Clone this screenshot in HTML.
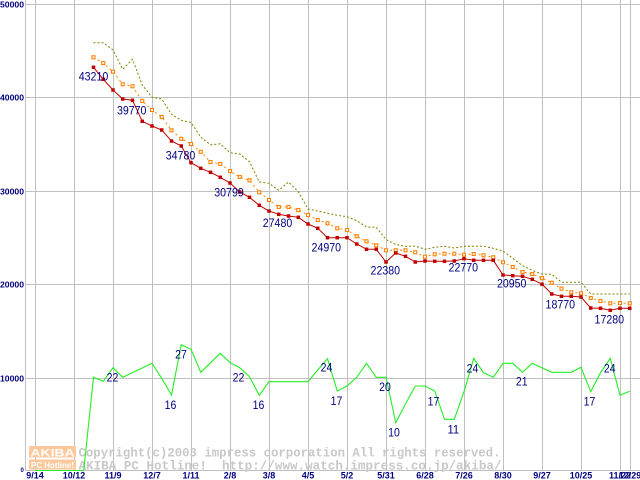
<!DOCTYPE html>
<html>
<head>
<meta charset="utf-8">
<style>
html,body{margin:0;padding:0;background:#fff;}
svg{display:block;}
.ax{font-family:"Liberation Sans",sans-serif;font-weight:bold;font-size:8.5px;fill:#000080;}
.xl{font-family:"Liberation Sans",sans-serif;font-weight:bold;font-size:9px;fill:#000080;}
.lb{font-family:"Liberation Sans",sans-serif;font-size:12px;fill:#000080;}
.wm{font-family:"Liberation Mono",monospace;font-weight:bold;font-size:13px;fill:#c8c8c8;}
</style>
</head>
<body>
<svg width="640" height="480" viewBox="0 0 640 480" xmlns="http://www.w3.org/2000/svg">
<defs>
<marker id="mr" markerWidth="4" markerHeight="4" refX="2" refY="2" markerUnits="userSpaceOnUse" overflow="visible">
<rect x="0.25" y="0.25" width="3.5" height="3.5" fill="#c00000"/>
</marker>
<marker id="mo" markerWidth="4" markerHeight="4" refX="2" refY="2" markerUnits="userSpaceOnUse" overflow="visible">
<rect x="0.5" y="0.5" width="3" height="3" fill="#ffffff" stroke="#ff8000" stroke-width="1.1"/>
</marker>
</defs>
<rect width="640" height="480" fill="#fff"/>
<!-- grid -->
<g stroke="#c0c0c0" stroke-width="1" fill="none">
<line x1="25" y1="4.5" x2="640" y2="4.5"/>
<line x1="25" y1="97.5" x2="640" y2="97.5"/>
<line x1="25" y1="191.5" x2="640" y2="191.5"/>
<line x1="25" y1="284.5" x2="640" y2="284.5"/>
<line x1="25" y1="378.5" x2="640" y2="378.5"/>
<line x1="25" y1="470.5" x2="640" y2="470.5"/>
<line x1="25.5" y1="0" x2="25.5" y2="471"/>
<line x1="35.5" y1="0" x2="35.5" y2="471"/>
<line x1="74.5" y1="0" x2="74.5" y2="471"/>
<line x1="113.5" y1="0" x2="113.5" y2="471"/>
<line x1="152.5" y1="0" x2="152.5" y2="471"/>
<line x1="191.5" y1="0" x2="191.5" y2="471"/>
<line x1="230.5" y1="0" x2="230.5" y2="471"/>
<line x1="269.5" y1="0" x2="269.5" y2="471"/>
<line x1="308.5" y1="0" x2="308.5" y2="471"/>
<line x1="347.5" y1="0" x2="347.5" y2="471"/>
<line x1="386.5" y1="0" x2="386.5" y2="471"/>
<line x1="425.5" y1="0" x2="425.5" y2="471"/>
<line x1="464.5" y1="0" x2="464.5" y2="471"/>
<line x1="503.5" y1="0" x2="503.5" y2="471"/>
<line x1="542.5" y1="0" x2="542.5" y2="471"/>
<line x1="581.5" y1="0" x2="581.5" y2="471"/>
<line x1="620.5" y1="0" x2="620.5" y2="471"/>
<line x1="630.5" y1="0" x2="630.5" y2="471"/>
</g>
<!-- y labels -->
<text class="ax" x="0" y="7.3" textLength="24" lengthAdjust="spacingAndGlyphs">50000</text>
<text class="ax" x="0" y="100.5" textLength="24" lengthAdjust="spacingAndGlyphs">40000</text>
<text class="ax" x="0" y="194.3" textLength="24" lengthAdjust="spacingAndGlyphs">30000</text>
<text class="ax" x="0" y="287.3" textLength="24" lengthAdjust="spacingAndGlyphs">20000</text>
<text class="ax" x="0" y="381.3" textLength="24" lengthAdjust="spacingAndGlyphs">10000</text>
<text class="ax" x="20.5" y="472" style="font-size:6px">0</text>
<!-- x labels -->
<g class="xl" text-anchor="middle">
<text x="35" y="478.5">9/14</text>
<text x="74" y="478.5">10/12</text>
<text x="113" y="478.5">11/9</text>
<text x="152" y="478.5">12/7</text>
<text x="191" y="478.5">1/11</text>
<text x="230" y="478.5">2/8</text>
<text x="269" y="478.5">3/8</text>
<text x="308" y="478.5">4/5</text>
<text x="347" y="478.5">5/2</text>
<text x="386" y="478.5">5/31</text>
<text x="425" y="478.5">6/28</text>
<text x="464" y="478.5">7/26</text>
<text x="503" y="478.5">8/30</text>
<text x="542" y="478.5">9/27</text>
<text x="581" y="478.5">10/25</text>
<text x="620" y="478.5">11/22</text>
<text x="630" y="478.5">12/29</text>
</g>
<!-- watermark -->
<rect x="29" y="446" width="47" height="11.5" fill="#fcc89c"/>
<rect x="29" y="459.5" width="47" height="10" fill="#fcc89c"/>
<text x="30.5" y="456.5" textLength="44" lengthAdjust="spacingAndGlyphs" style="font-family:'Liberation Sans',sans-serif;font-weight:bold;font-size:11px;fill:#fff">AKIBA</text>
<text x="31" y="467.8" textLength="43" lengthAdjust="spacingAndGlyphs" style="font-family:'Liberation Sans',sans-serif;font-weight:bold;font-size:8.5px;fill:#fff">PC Hotline!</text>
<text class="wm" x="78.5" y="456.7" textLength="422" lengthAdjust="spacingAndGlyphs">Copyright(c)2003 impress corporation All rights reserved.</text>
<text class="wm" x="78.5" y="469.3" textLength="423" lengthAdjust="spacingAndGlyphs" xml:space="preserve">AKIBA PC Hotline!&#160;&#160;http://www.watch.impress.co.jp/akiba/</text>
<!-- olive max -->
<polyline fill="none" stroke="#808000" stroke-width="1" stroke-dasharray="2 2" points="93.5,42.7 103.25,42.7 113,50 122.75,69.3 132.5,59.3 142.25,85 152,97.3 161.75,99 171.5,114.3 181.25,120.3 191,122.5 200.75,137.2 210.5,144.8 220.25,143.8 230,152.7 239.75,154 249.5,161.7 259.25,182 269,183.3 278.75,190.3 288.5,182 298.25,191.7 308,209 317.75,211 327.5,213.3 337.25,215.3 347,216.7 356.75,220.7 366.5,227 376.25,227.3 386,239.5 395.75,244.5 405.5,246.3 415.25,246 425,249.3 434.75,247.3 444.5,246.3 454.25,248 464,246.3 473.75,246.3 483.5,246.3 493.25,248.3 503,251 512.75,258.3 522.5,265.7 532.25,270.3 542,274 551.75,274.3 561.5,282.3 571.25,282.3 581,282.3 590.75,294 600.5,294 610.25,294 620,294 629.75,294"/>
<!-- orange avg -->
<polyline fill="none" stroke="#ff8000" stroke-width="1" stroke-dasharray="2 3" marker-start="url(#mo)" marker-mid="url(#mo)" marker-end="url(#mo)" points="93.5,57.3 103.25,63 113,71.7 122.75,84.3 132.5,86.3 142.25,101 152,110 161.75,117 171.5,130.3 181.25,138.8 191,144 200.75,151.8 210.5,162 220.25,164 230,171 239.75,177 249.5,180.3 259.25,192.3 269,200 278.75,207 288.5,207 298.25,210 308,215 317.75,220 327.5,223.3 337.25,228.3 347,230 356.75,236.3 366.5,241.3 376.25,245.3 386,250.3 395.75,250.3 405.5,250.3 415.25,252.3 425,256.7 434.75,254.3 444.5,253.7 454.25,253.7 464,254.7 473.75,254 483.5,255.3 493.25,257.3 503,262.3 512.75,267 522.5,272 532.25,274 542,278.2 551.75,282.7 561.5,288.7 571.25,292.3 581,293.3 590.75,298 600.5,301 610.25,303.3 620,303 629.75,303.3"/>
<!-- red min -->
<polyline fill="none" stroke="#c00000" stroke-width="1" marker-start="url(#mr)" marker-mid="url(#mr)" marker-end="url(#mr)" points="93.5,67.3 103.25,79.3 113,90 122.75,99 132.5,100.3 142.25,121.3 152,126 161.75,130 171.5,141 181.25,146 191,162.7 200.75,168.3 210.5,172.3 220.25,177.3 230,183 239.75,192 249.5,197.3 259.25,205.3 269,211 278.75,214.3 288.5,216 298.25,217.3 308,224 317.75,228.3 327.5,237.7 337.25,237.7 347,237.7 356.75,244 366.5,249.3 376.25,249.3 386,262 395.75,253 405.5,256.3 415.25,262 425,261 434.75,261.3 444.5,261.3 454.25,261 464,258.7 473.75,260.3 483.5,260.3 493.25,260.3 503,275 512.75,275.7 522.5,276.3 532.25,279.3 542,284.2 551.75,294 561.5,296.3 571.25,296.3 581,297 590.75,308 600.5,308.3 610.25,310.3 620,308.3 629.75,308.3"/>
<!-- green count -->
<polyline fill="none" stroke="#22ee22" stroke-width="1.1" points="35,470.5 44.75,470.5 54.5,470.5 64.25,470.5 74,470.5 83.75,470.5 93.5,377.3 103.25,381.3 113,367.7 122.75,377.3 132.5,372.6 142.25,368 152,363.3 161.75,378.3 171.5,395 181.25,344.7 191,349.3 200.75,372.3 210.5,362.8 220.25,353.3 230,362.7 239.75,367.7 249.5,376.7 259.25,395.3 269,381.7 278.75,381.7 288.5,381.7 298.25,381.7 308,381.7 317.75,370 327.5,358.7 337.25,391 347,386 356.75,377.3 366.5,363.3 376.25,377.3 386,377.3 395.75,422.7 405.5,404 415.25,386 425,386 434.75,391 444.5,419.3 454.25,419.3 464,391.7 473.75,358.3 483.5,372.7 493.25,377.3 503,363.3 512.75,363.3 522.5,372.3 532.25,363.3 542,367.8 551.75,372.3 561.5,372.3 571.25,372.3 581,367.3 590.75,391.7 600.5,372.7 610.25,358.3 620,395.3 629.75,391.3"/>
<!-- value labels -->
<g class="lb" text-anchor="middle">
<text x="93.5" y="80.3" textLength="29.5" lengthAdjust="spacingAndGlyphs">43210</text>
<text x="131.7" y="114.6" textLength="29.5" lengthAdjust="spacingAndGlyphs">39770</text>
<text x="180.5" y="159.3" textLength="29.5" lengthAdjust="spacingAndGlyphs">34780</text>
<text x="229" y="196.3" textLength="29.5" lengthAdjust="spacingAndGlyphs">30799</text>
<text x="277.5" y="226.9" textLength="29.5" lengthAdjust="spacingAndGlyphs">27480</text>
<text x="326.3" y="251.3" textLength="29.5" lengthAdjust="spacingAndGlyphs">24970</text>
<text x="385.3" y="274.6" textLength="29.5" lengthAdjust="spacingAndGlyphs">22380</text>
<text x="463.3" y="271.3" textLength="29.5" lengthAdjust="spacingAndGlyphs">22770</text>
<text x="511.7" y="287.6" textLength="29.5" lengthAdjust="spacingAndGlyphs">20950</text>
<text x="560.3" y="308.6" textLength="29.5" lengthAdjust="spacingAndGlyphs">18770</text>
<text x="609.3" y="323.3" textLength="29.5" lengthAdjust="spacingAndGlyphs">17280</text>
<text x="112.5" y="381.7" textLength="11.7" lengthAdjust="spacingAndGlyphs">22</text>
<text x="170.5" y="409.1" textLength="11.7" lengthAdjust="spacingAndGlyphs">16</text>
<text x="181" y="358.4" textLength="11.7" lengthAdjust="spacingAndGlyphs">27</text>
<text x="238.5" y="381.7" textLength="11.7" lengthAdjust="spacingAndGlyphs">22</text>
<text x="258.5" y="409.1" textLength="11.7" lengthAdjust="spacingAndGlyphs">16</text>
<text x="326.5" y="371.7" textLength="11.7" lengthAdjust="spacingAndGlyphs">24</text>
<text x="336.5" y="405.1" textLength="11.7" lengthAdjust="spacingAndGlyphs">17</text>
<text x="385" y="391.1" textLength="11.7" lengthAdjust="spacingAndGlyphs">20</text>
<text x="394" y="436.7" textLength="11.7" lengthAdjust="spacingAndGlyphs">10</text>
<text x="433.5" y="405.7" textLength="11.7" lengthAdjust="spacingAndGlyphs">17</text>
<text x="453.3" y="433.4" textLength="11.7" lengthAdjust="spacingAndGlyphs">11</text>
<text x="472.5" y="372.4" textLength="11.7" lengthAdjust="spacingAndGlyphs">24</text>
<text x="521.7" y="385.7" textLength="11.7" lengthAdjust="spacingAndGlyphs">21</text>
<text x="589.5" y="405.7" textLength="11.7" lengthAdjust="spacingAndGlyphs">17</text>
<text x="609.7" y="372.4" textLength="11.7" lengthAdjust="spacingAndGlyphs">24</text>
</g>
</svg>
</body>
</html>
